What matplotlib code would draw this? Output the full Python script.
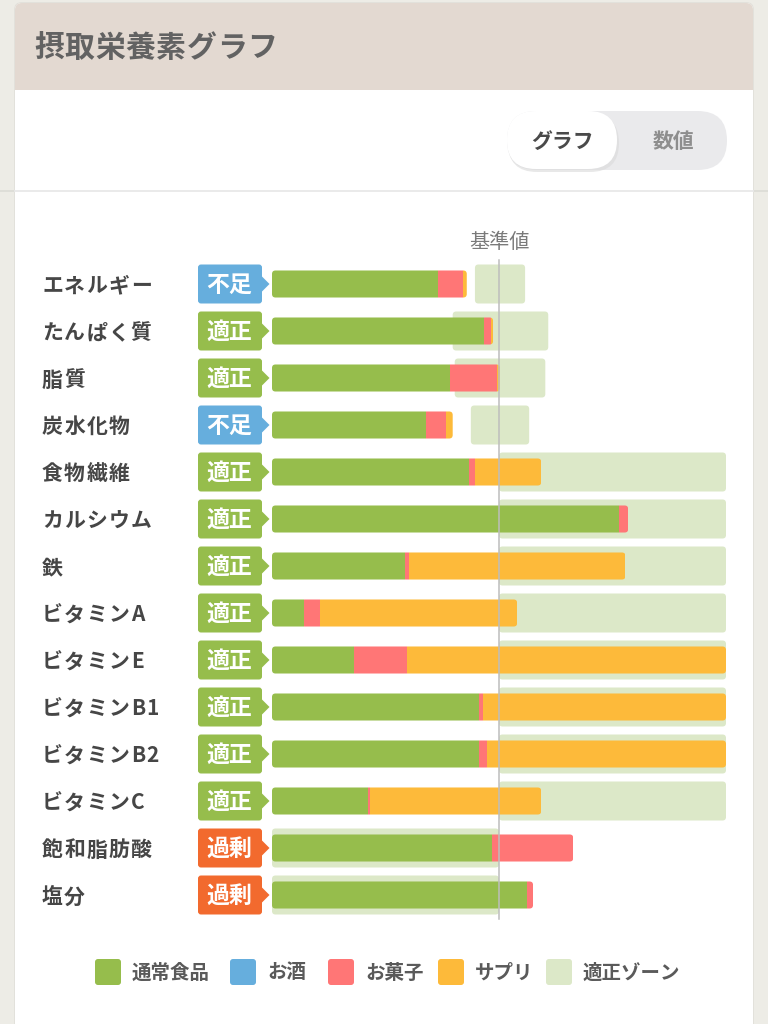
import matplotlib
matplotlib.use("Agg")
import matplotlib.pyplot as plt
from matplotlib.patches import FancyBboxPatch, Polygon, Rectangle
from matplotlib.transforms import blended_transform_factory, IdentityTransform

plt.rcParams['font.family'] = ['Noto Sans CJK JP', 'DejaVu Sans']

# ---------------- data ----------------
nutrients = ["エネルギー", "たんぱく質", "脂質", "炭水化物", "食物繊維", "カルシウム", "鉄",
             "ビタミンA", "ビタミンE", "ビタミンB1", "ビタミンB2", "ビタミンC", "飽和脂肪酸", "塩分"]
status = ["不足", "適正", "適正", "不足", "適正", "適正", "適正",
          "適正", "適正", "適正", "適正", "適正", "過剰", "過剰"]
food = [73.0, 93.4, 78.3, 67.7, 86.7, 152.9, 58.4, 14.2, 36.1, 91.1, 91.1, 42.4, 96.9, 112.3]
alcohol = [0, 0, 0, 0, 0, 0, 0, 0, 0, 0, 0, 0, 0, 0]
sweets = [11.0, 3.1, 20.8, 8.8, 2.7, 4.0, 2.0, 7.1, 23.4, 1.8, 3.8, 0.8, 35.8, 2.7]
supplement = [1.8, 0.9, 1.3, 3.1, 29.2, 0, 95.3, 86.7, 140.5, 107.1, 105.1, 75.4, 0, 0]
zone_low = [89.4, 79.6, 80.5, 87.6, 100, 100, 100, 100, 100, 100, 100, 100, 0, 0]
zone_high = [111.5, 121.7, 120.4, 113.3, 200, 200, 200, 200, 200, 200, 200, 200, 100, 100]
legend_labels = ["通常食品", "お酒", "お菓子", "サプリ", "適正ゾーン"]

C_FOOD = "#96BD4C"
C_ALC = "#66AEDD"
C_SWEET = "#FF7676"
C_SUPP = "#FDBA3A"
C_ZONE = "#DCE8C8"
badge_colors = {"不足": "#66AEDD", "適正": "#96BD4C", "過剰": "#F26A2E"}

W, H = 768, 1024
fig = plt.figure(figsize=(W / 100, H / 100), dpi=100)
fig.patch.set_facecolor("#EDECE6")
renderer = fig.canvas.get_renderer()


def spaced_text(axis, x, y, s, spacing, transform, **kw):
    """Draw text char by char with extra letter spacing (x in pixels)."""
    for ch in s:
        t = axis.text(x, y, ch, transform=transform, ha="left", **kw)
        bb = t.get_window_extent(renderer)
        x += bb.width + spacing


# overlay axes in pixel coords (top-left origin)
ov = fig.add_axes([0, 0, 1, 1])
ov.set_xlim(0, W)
ov.set_ylim(H, 0)
ov.axis("off")
ov.set_zorder(0)

# outer divider line
ov.plot([0, W], [190.5, 190.5], color="#DCDCD6", lw=1.2, zorder=0)
# card shadow + card
ov.add_patch(FancyBboxPatch((14, 2), 740, 1040, boxstyle="round,pad=0,rounding_size=8",
                            fc="#E2E1DB", ec="none", zorder=1))
ov.add_patch(FancyBboxPatch((15, 3), 738, 1040, boxstyle="round,pad=0,rounding_size=7",
                            fc="white", ec="none", zorder=2))
# header
ov.add_patch(FancyBboxPatch((15, 3), 738, 87, boxstyle="round,pad=0,rounding_size=7",
                            fc="#E3D9D1", ec="none", zorder=3))
ov.add_patch(Rectangle((15, 60), 738, 30, fc="#E3D9D1", ec="none", zorder=3))
spaced_text(ov, 34, 48, "摂取栄養素グラフ", 0.6, ov.transData, fontsize=21.5, color="#626262",
            fontweight="bold", va="center", zorder=4)
# divider inside card
ov.plot([15, 753], [191, 191], color="#E8E8E8", lw=1.3, zorder=4)

# toggle
ov.add_patch(FancyBboxPatch((507, 111), 220, 59, boxstyle="round,pad=0,rounding_size=29.5",
                            fc="#EAEAEC", ec="none", zorder=4))
ov.add_patch(FancyBboxPatch((508, 114), 111, 58, boxstyle="round,pad=0,rounding_size=29",
                            fc="#DADADA", ec="none", zorder=5, alpha=0.6))
ov.add_patch(FancyBboxPatch((507, 111), 110, 58, boxstyle="round,pad=0,rounding_size=29",
                            fc="white", ec="none", zorder=6))
ov.text(562, 141, "グラフ", fontsize=15, color="#4A4A4A", fontweight="bold",
        ha="center", va="center", zorder=7)
ov.text(673, 141, "数値", fontsize=15, color="#8E8E8E", fontweight="bold",
        ha="center", va="center", zorder=7)

# ---------------- data axes ----------------
n = len(nutrients)
row_top_px, row_h = 284 - 23.5, 47
x0_px, x200_px = 272, 726
ax = fig.add_axes([x0_px / W, 1 - (row_top_px + n * row_h) / H,
                   (x200_px - x0_px) / W, n * row_h / H])
ax.set_xlim(0, 200)
ax.set_ylim(n - 0.5, -0.5)
ax.axis("off")
ax.set_zorder(2)
ax.patch.set_alpha(0)

ypos = list(range(n))
px_per_x = (x200_px - x0_px) / 200.0
px_per_y = row_h
r_px = 3.5
r_x = r_px / px_per_x
aspect = (r_px / px_per_y) / r_x

# zones
zone_bars = ax.barh(ypos, [h - l for l, h in zip(zone_low, zone_high)], left=zone_low,
                    height=0.83, color=C_ZONE, zorder=1)
for rect in zone_bars:
    rect.set_visible(False)
    fb = FancyBboxPatch((rect.get_x(), rect.get_y()), rect.get_width(), rect.get_height(),
                        boxstyle=f"round,pad=0,rounding_size={r_x}", mutation_aspect=aspect,
                        fc=C_ZONE, ec="none", zorder=1)
    ax.add_patch(fb)

# stacked bars
segments = [(food, C_FOOD), (alcohol, C_ALC), (sweets, C_SWEET), (supplement, C_SUPP)]
left = [0.0] * n
totals = [sum(v) for v in zip(food, alcohol, sweets, supplement)]
clips = []
for i in range(n):
    cp = FancyBboxPatch((0, i - 0.2875), totals[i], 0.575,
                        boxstyle=f"round,pad=0,rounding_size={r_x}", mutation_aspect=aspect,
                        fc="none", ec="none", transform=ax.transData)
    ax.add_patch(cp)
    clips.append(cp)
for vals, col in segments:
    bars = ax.barh(ypos, vals, left=left, height=0.575, color=col, zorder=3, linewidth=0)
    for i, b in enumerate(bars):
        b.set_clip_path(clips[i])
    left = [l + v for l, v in zip(left, vals)]

# reference line
ax.plot([100, 100], [-0.52, n - 0.5], color="#BDBDBD", lw=1.1, zorder=4, clip_on=False)
ax.text(100, -0.66, "基準値", fontsize=14.5, color="#7A7A7A", ha="center", va="bottom",
        clip_on=False)

# labels and badges
bt = blended_transform_factory(IdentityTransform(), ax.transData)
for i, (name, st) in enumerate(zip(nutrients, status)):
    spaced_text(ax, 42, i + 0.04, name, 1.3, bt, fontsize=15, color="#464646", fontweight="bold",
                va="center", clip_on=False)
    hb = 39 / px_per_y
    col = badge_colors[st]
    fb = FancyBboxPatch((198, i - hb / 2), 64, hb, boxstyle="round,pad=0,rounding_size=3",
                        mutation_aspect=1 / px_per_y, transform=bt, fc=col, ec="none",
                        clip_on=False, zorder=3)
    ax.add_patch(fb)
    tri = Polygon([(261, i - 8.5 / px_per_y), (269.5, i), (261, i + 8.5 / px_per_y)],
                  closed=True, transform=bt, fc=col, ec="none", clip_on=False, zorder=3)
    ax.add_patch(tri)
    ax.text(229, i + 0.03, st, transform=bt, fontsize=16.5, color="white", fontweight="bold",
            ha="center", va="center", clip_on=False, zorder=4)

# legend
leg_colors = [C_FOOD, C_ALC, C_SWEET, C_SUPP, C_ZONE]
leg_x = [95, 230, 328, 438, 546]
for lx, lab, col in zip(leg_x, legend_labels, leg_colors):
    ov.add_patch(FancyBboxPatch((lx, 959), 26, 26, boxstyle="round,pad=0,rounding_size=3",
                                fc=col, ec="none", zorder=5))
    ov.text(lx + 37, 973, lab, fontsize=14, color="#5A5A5A", fontweight="bold",
            ha="left", va="center", zorder=5)

fig.savefig("out.png", dpi=100)
